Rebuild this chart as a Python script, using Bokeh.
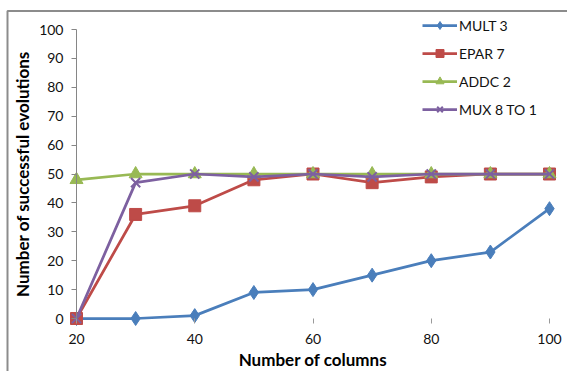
from bokeh.plotting import figure
from bokeh.models import (Range1d, LinearAxis, FixedTicker, Legend, LegendItem,
                          Label)
from bokeh.embed import file_html
from bokeh.resources import INLINE
import math

# Data: successful evolutions (out of 50) per number of columns
columns = [20, 30, 40, 50, 60, 70, 80, 90, 100]
mult3 = [0, 0, 1, 9, 10, 15, 20, 23, 38]
epar7 = [0, 36, 39, 48, 50, 47, 49, 50, 50]
addc2 = [48, 50, 50, 50, 50, 50, 50, 50, 50]
mux8to1 = [0, 47, 50, 49, 50, 49, 50, 50, 50]

series_names = ["MULT 3", "EPAR 7", "ADDC 2", "MUX 8 TO 1"]
x_ticks = [20, 40, 60, 80, 100]
y_ticks = list(range(0, 101, 10))

W, H = 567, 371
FONT = "Lato"

# Pixel layout of the axes (x = 20..100, y = 0..100). The frame spans the
# whole canvas so that nothing outside the axes gets clipped.
AX_LEFT, AX_RIGHT = 76, 549
AX_TOP, AX_BOTTOM = 29, 318

xs = (AX_RIGHT - AX_LEFT) / 80.0
ys = (AX_BOTTOM - AX_TOP) / 100.0


def px_to_x(px):
    return 20 + (px - AX_LEFT) / xs


def px_to_y(py):
    return (AX_BOTTOM - py) / ys


x_range = Range1d(px_to_x(0), px_to_x(W))
y_range = Range1d(px_to_y(H), px_to_y(0))

p = figure(width=W, height=H, x_range=x_range, y_range=y_range,
           output_backend="svg", toolbar_location=None,
           x_axis_type=None, y_axis_type=None,
           min_border=0, min_border_left=0, min_border_right=0,
           min_border_top=0, min_border_bottom=0)
p.outline_line_color = None
p.background_fill_color = "white"
p.border_fill_color = "white"
p.xgrid.visible = False
p.ygrid.visible = False

# Chart-area border (its right and bottom edges fall outside the canvas)
p.line([px_to_x(7), px_to_x(7), px_to_x(W + 10)],
       [px_to_y(H + 10), px_to_y(10.5), px_to_y(10.5)],
       line_color="#8c8c8c", line_width=2)

# Axes pinned to the data origin
yaxis = LinearAxis(fixed_location=20, ticker=FixedTicker(ticks=y_ticks), bounds=(0, 100))
yaxis.axis_line_color = "#868686"
yaxis.major_tick_line_color = "#868686"
yaxis.major_tick_in = 0
yaxis.major_tick_out = 5
yaxis.minor_tick_line_color = None
yaxis.major_label_standoff = 8
yaxis.major_label_text_font = FONT
yaxis.major_label_text_font_size = "14px"
yaxis.major_label_text_color = "#111111"
p.add_layout(yaxis, "left")

xaxis = LinearAxis(fixed_location=0, ticker=FixedTicker(ticks=x_ticks), bounds=(20, 100))
xaxis.axis_line_color = None
xaxis.major_tick_line_color = "#9a9a9a"
xaxis.major_tick_in = 0
xaxis.major_tick_out = 5
xaxis.minor_tick_line_color = None
xaxis.major_label_standoff = 10
xaxis.major_label_text_font = FONT
xaxis.major_label_text_font_size = "14px"
xaxis.major_label_text_color = "#111111"
p.add_layout(xaxis, "below")

# Axis titles
p.add_layout(Label(x=60, y=px_to_y(359), text="Number of columns",
                   text_font=FONT, text_font_size="17px", text_font_style="bold",
                   text_align="center", text_baseline="middle", text_color="#000000"))
p.add_layout(Label(x=px_to_x(22), y=50, text="Number of successful evolutions",
                   angle=math.pi / 2, text_font=FONT, text_font_size="17px",
                   text_font_style="bold", text_align="center", text_baseline="middle",
                   text_color="#000000"))

colors = ["#4a7ebb", "#be4b48", "#98b954", "#7d60a0"]
markers = ["diamond", "square", "triangle", "x"]
sizes = [14, 12, 13, 13]
data = [mult3, epar7, addc2, mux8to1]

items = []
for name, vals, c, m, s in zip(series_names, data, colors, markers, sizes):
    ln = p.line(columns, vals, line_color=c, line_width=2.75)
    if m == "x":
        sc = p.scatter(columns, vals, marker=m, size=s, line_color=c, line_width=2)
    else:
        sc = p.scatter(columns, vals, marker=m, size=s, fill_color=c, line_color=c)
    items.append(LegendItem(label=name, renderers=[ln, sc]))

legend = Legend(items=items, location=(422, H - 15 - 104), orientation="vertical",
                glyph_width=35, glyph_height=20, label_height=20, spacing=8,
                label_standoff=2, padding=0, margin=0,
                border_line_color=None, background_fill_alpha=0,
                label_text_font=FONT, label_text_font_size="14px",
                label_text_color="#111111")
p.add_layout(legend, "center")

open("out.html", "w").write(file_html(p, INLINE))
